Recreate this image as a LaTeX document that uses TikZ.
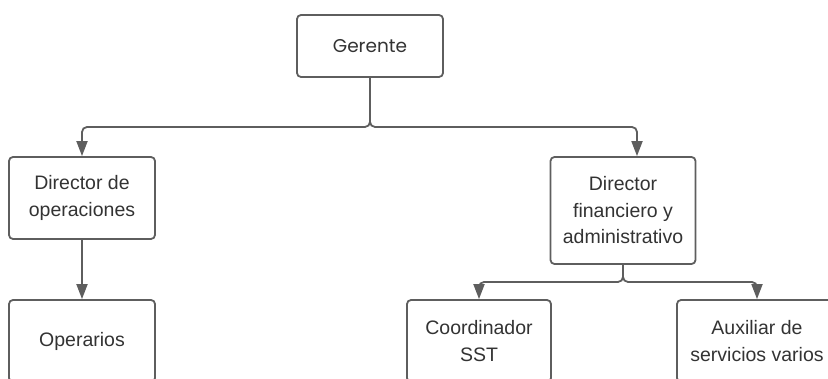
\documentclass[tikz,border=0pt]{standalone}
\usepackage{fontspec}
\setmainfont{Liberation Sans}
\newfontfamily\gfont{Poppins}
\usetikzlibrary{arrows.meta}
\definecolor{linegray}{HTML}{5E5E5E}
\definecolor{txt}{HTML}{333333}
\begin{document}
\begin{tikzpicture}[x=1pt,y=-1pt,
  box/.style={draw=linegray, line width=1.8pt, rounded corners=4pt, fill=white, text=txt,
    align=center, font=\fontsize{19.5}{26.5}\selectfont, inner sep=0pt},
  conn/.style={draw=linegray, line width=1.8pt, rounded corners=5pt,
    -{Triangle[length=15pt,width=11pt]}}]
\useasboundingbox (0,0) rectangle (828,379);
\clip (0,0) rectangle (828,379);
\node[box, minimum width=146pt, minimum height=62pt, font=\gfont\fontsize{18.5}{26}\selectfont] (g) at (370,46) {Gerente};
\node[box, minimum width=146pt, minimum height=82pt] (d1) at (82,198) {Director de\\operaciones};
\node[box, minimum width=145pt, minimum height=107pt] (d2) at (623,210.5) {Director\\financiero y\\administrativo};
\node[box, minimum width=146pt, minimum height=82pt] (op) at (82,341) {Operarios};
\node[box, minimum width=144pt, minimum height=82pt] (co) at (479,341) {Coordinador\\SST};
\node[box, minimum width=160pt, minimum height=82pt] (au) at (757,341) {Auxiliar de\\servicios varios};
\coordinate (j1) at (370,127);
\coordinate (j2) at (623,282);
\draw[conn] (g.south) -- (j1) -| (d1.north);
\draw[conn] (g.south) -- (j1) -| ([xshift=14pt]d2.north);
\draw[conn] (d1.south) -- (op.north);
\draw[conn] (d2.south) -- (j2) -| (co.north);
\draw[conn] (d2.south) -- (j2) -| (au.north);
\end{tikzpicture}
\end{document}
